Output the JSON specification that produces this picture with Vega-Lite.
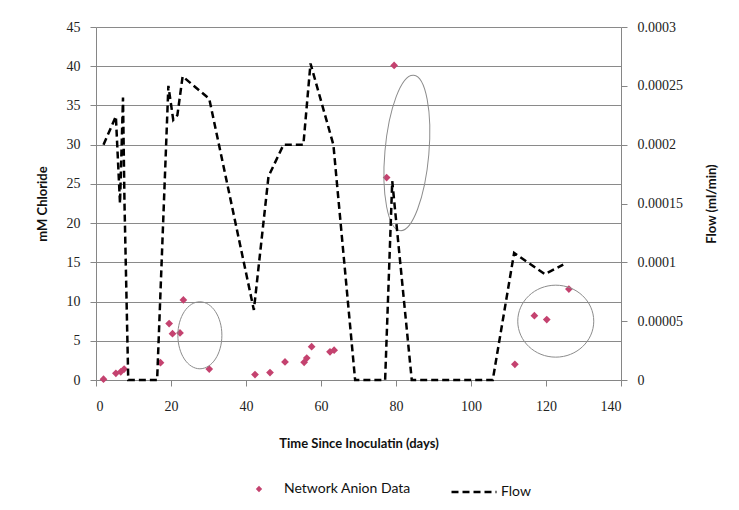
{
  "$schema": "https://vega.github.io/schema/vega-lite/v6.json",
  "width": 525,
  "height": 353,
  "autosize": {"type": "none"},
  "padding": {"left": 96, "top": 27, "right": 118, "bottom": 130},
  "background": "white",
  "config": {
    "view": {"stroke": null},
    "axis": {
      "labelFont": "Liberation Serif",
      "labelFontSize": 14,
      "labelColor": "#222",
      "titleFont": "Lato",
      "titleFontSize": 13,
      "titleFontWeight": "bold",
      "titleColor": "#111",
      "domainColor": "#868686",
      "tickColor": "#868686",
      "gridColor": "#8a8a8a",
      "tickSize": 6,
      "labelOverlap": false
    },
    "legend": {
      "labelFont": "Lato",
      "labelFontSize": 14,
      "labelColor": "#111",
      "padding": 0
    }
  },
  "resolve": {"scale": {"y": "independent"}},
  "layer": [
    {
      "encoding": {
        "x": {"field": "day", "type": "quantitative", "title": "Time Since Inoculatin (days)",
          "scale": {"domain": [0, 140], "nice": false},
          "axis": {"values": [0, 20, 40, 60, 80, 100, 120, 140], "grid": false, "labelPadding": 13, "titlePadding": 24}},
        "y": {"field": "chloride", "type": "quantitative", "title": "mM Chloride",
          "scale": {"domain": [0, 45], "nice": false},
          "axis": {"orient": "left", "values": [0, 5, 10, 15, 20, 25, 30, 35, 40, 45], "grid": true, "labelPadding": 10, "titlePadding": 17}}
      },
      "layer": [
        {
          "data": {"values": [
            {"day": 2, "chloride": 0.1, "series": "Network Anion Data"},
            {"day": 5.3, "chloride": 0.85, "series": "Network Anion Data"},
            {"day": 6.6, "chloride": 1.05, "series": "Network Anion Data"},
            {"day": 7.5, "chloride": 1.4, "series": "Network Anion Data"},
            {"day": 17.2, "chloride": 2.2, "series": "Network Anion Data"},
            {"day": 19.5, "chloride": 7.2, "series": "Network Anion Data"},
            {"day": 20.4, "chloride": 5.9, "series": "Network Anion Data"},
            {"day": 22.4, "chloride": 6.0, "series": "Network Anion Data"},
            {"day": 23.3, "chloride": 10.2, "series": "Network Anion Data"},
            {"day": 30.2, "chloride": 1.4, "series": "Network Anion Data"},
            {"day": 42.4, "chloride": 0.7, "series": "Network Anion Data"},
            {"day": 46.4, "chloride": 0.95, "series": "Network Anion Data"},
            {"day": 50.4, "chloride": 2.3, "series": "Network Anion Data"},
            {"day": 55.5, "chloride": 2.25, "series": "Network Anion Data"},
            {"day": 56.2, "chloride": 2.8, "series": "Network Anion Data"},
            {"day": 57.5, "chloride": 4.25, "series": "Network Anion Data"},
            {"day": 62.4, "chloride": 3.6, "series": "Network Anion Data"},
            {"day": 63.5, "chloride": 3.8, "series": "Network Anion Data"},
            {"day": 77.5, "chloride": 25.8, "series": "Network Anion Data"},
            {"day": 79.5, "chloride": 40.1, "series": "Network Anion Data"},
            {"day": 111.7, "chloride": 2.0, "series": "Network Anion Data"},
            {"day": 116.9, "chloride": 8.2, "series": "Network Anion Data"},
            {"day": 120.2, "chloride": 7.7, "series": "Network Anion Data"},
            {"day": 126.1, "chloride": 11.6, "series": "Network Anion Data"}
          ]},
          "mark": {"type": "point", "filled": true, "size": 60, "opacity": 1, "color": "#c4426f"},
          "encoding": {
            "shape": {"field": "series", "type": "nominal",
              "scale": {"domain": ["Network Anion Data"], "range": ["diamond"]},
              "legend": {"title": null, "orient": "none", "legendX": 156, "legendY": 455, "symbolSize": 40, "symbolFillColor": "#c4426f", "symbolStrokeColor": "#c4426f", "labelOffset": 18}}
          }
        },
        {
          "data": {"values": [{"day": 27.7, "chloride": 5.7}]},
          "mark": {"type": "point", "filled": false, "stroke": "#8c8c8c", "strokeWidth": 1, "opacity": 1,
            "shape": "M -0.657 0 A 0.657 1 0 1 0 0.657 0 A 0.657 1 0 1 0 -0.657 0 Z", "size": 4489}
        },
        {
          "data": {"values": [{"day": 82.9, "chloride": 28.95}]},
          "mark": {"type": "point", "filled": false, "stroke": "#8c8c8c", "strokeWidth": 1, "opacity": 1, "angle": 5,
            "shape": "M -0.282 0 A 0.282 1 0 1 0 0.282 0 A 0.282 1 0 1 0 -0.282 0 Z", "size": 24336}
        },
        {
          "data": {"values": [{"day": 122.6, "chloride": 7.5}]},
          "mark": {"type": "point", "filled": false, "stroke": "#8c8c8c", "strokeWidth": 1, "opacity": 1,
            "shape": "M -1 0 A 1 0.947 0 1 0 1 0 A 1 0.947 0 1 0 -1 0 Z", "size": 5776}
        }
      ]
    },
    {
      "data": {"values": [
        {"day": 2, "flow": 0.0002, "series": "Flow"},
        {"day": 5.3, "flow": 0.000224, "series": "Flow"},
        {"day": 6.4, "flow": 0.00015, "series": "Flow"},
        {"day": 7.2, "flow": 0.00024, "series": "Flow"},
        {"day": 7.6, "flow": 0.00015, "series": "Flow"},
        {"day": 8.6, "flow": 0, "series": "Flow"},
        {"day": 16.3, "flow": 0, "series": "Flow"},
        {"day": 19.3, "flow": 0.00025, "series": "Flow"},
        {"day": 20.6, "flow": 0.000221, "series": "Flow"},
        {"day": 21.7, "flow": 0.000225, "series": "Flow"},
        {"day": 23.1, "flow": 0.000258, "series": "Flow"},
        {"day": 30.2, "flow": 0.000239, "series": "Flow"},
        {"day": 42.1, "flow": 0.0000595, "series": "Flow"},
        {"day": 46.0, "flow": 0.000173, "series": "Flow"},
        {"day": 50.0, "flow": 0.0002, "series": "Flow"},
        {"day": 55.3, "flow": 0.0002, "series": "Flow"},
        {"day": 57.2, "flow": 0.000269, "series": "Flow"},
        {"day": 63.3, "flow": 0.0002, "series": "Flow"},
        {"day": 69.1, "flow": 0, "series": "Flow"},
        {"day": 77.1, "flow": 0, "series": "Flow"},
        {"day": 79.0, "flow": 0.000169, "series": "Flow"},
        {"day": 84.2, "flow": 0, "series": "Flow"},
        {"day": 105.8, "flow": 0, "series": "Flow"},
        {"day": 111.5, "flow": 0.000108, "series": "Flow"},
        {"day": 119.7, "flow": 0.00009, "series": "Flow"},
        {"day": 124.6, "flow": 0.000098, "series": "Flow"}
      ]},
      "mark": {"type": "line", "color": "black", "strokeWidth": 2.5},
      "encoding": {
        "x": {"field": "day", "type": "quantitative", "title": "Time Since Inoculatin (days)",
          "scale": {"domain": [0, 140], "nice": false},
          "axis": {"values": [0, 20, 40, 60, 80, 100, 120, 140], "grid": false, "labelPadding": 13, "titlePadding": 24}},
        "y": {"field": "flow", "type": "quantitative", "title": "Flow (ml/min)",
          "scale": {"domain": [0, 0.0003], "nice": false},
          "axis": {"orient": "right", "values": [0, 0.00005, 0.0001, 0.00015, 0.0002, 0.00025, 0.0003], "grid": false,
            "labelExpr": "format(datum.value, '.5~f')", "labelPadding": 10, "titlePadding": 36, "titleAngle": 270}},
        "strokeDash": {"field": "series", "type": "nominal",
          "scale": {"domain": ["Flow"], "range": [[7, 4]]},
          "legend": {"title": null, "orient": "none", "legendX": 354, "legendY": 441, "symbolSize": 2025, "symbolStrokeWidth": 2.5, "symbolStrokeColor": "black", "labelOffset": 3}}
      }
    }
  ]
}
